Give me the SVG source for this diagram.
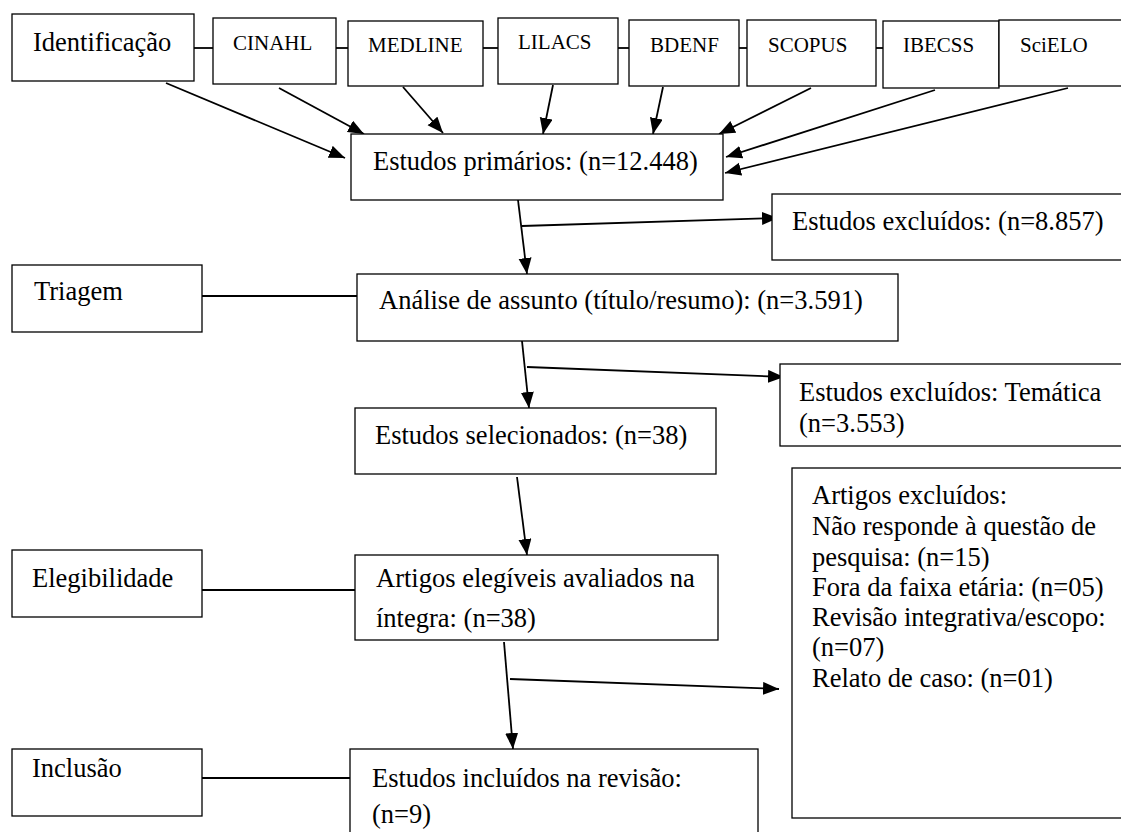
<svg xmlns="http://www.w3.org/2000/svg" width="1121" height="832" viewBox="0 0 1121 832">
<defs>
<style>
.box{fill:#fff;stroke:#000;stroke-width:1.3}
.t{font-family:"Liberation Serif","Times New Roman",serif;font-size:26.5px;fill:#000}
.s{font-family:"Liberation Serif","Times New Roman",serif;font-size:21px;fill:#000}
.ln{stroke:#000;stroke-width:1.8;fill:none}
.ar{stroke:#000;stroke-width:1.8;fill:none;marker-end:url(#ah)}
</style>
<marker id="ah" markerUnits="userSpaceOnUse" markerWidth="17" markerHeight="14" refX="16" refY="6.5" orient="auto">
<path d="M0,0 L16,6.5 L0,13 z" fill="#000"/>
</marker>
</defs>
<rect width="1121" height="832" fill="#fff"/>
<g id="connectors">
<line class="ln" x1="194" y1="48" x2="213" y2="48"/>
<line class="ln" x1="336" y1="48" x2="348" y2="48"/>
<line class="ln" x1="483" y1="48" x2="498" y2="48"/>
<line class="ln" x1="618" y1="48" x2="629" y2="48"/>
<line class="ln" x1="739" y1="48" x2="747" y2="48"/>
<line class="ln" x1="876" y1="48" x2="883" y2="48"/>
<line class="ln" x1="202" y1="296" x2="360" y2="296"/>
<line class="ln" x1="202" y1="590" x2="361" y2="590"/>
<line class="ln" x1="199" y1="778" x2="350" y2="778"/>
<line class="ar" x1="166" y1="83" x2="345" y2="158"/>
<line class="ar" x1="279" y1="88" x2="364" y2="134"/>
<line class="ar" x1="403" y1="87" x2="443" y2="133"/>
<line class="ar" x1="553" y1="85" x2="543" y2="134"/>
<line class="ar" x1="663" y1="87" x2="653" y2="134"/>
<line class="ar" x1="811" y1="88" x2="719" y2="134"/>
<line class="ar" x1="935" y1="90" x2="726" y2="157"/>
<line class="ar" x1="1068" y1="88" x2="725" y2="173"/>
<line class="ar" x1="518" y1="200" x2="527" y2="274"/>
<line class="ar" x1="522" y1="226" x2="778" y2="218"/>
<line class="ar" x1="522" y1="341" x2="529" y2="408"/>
<line class="ar" x1="527" y1="367" x2="784" y2="377"/>
<line class="ar" x1="517" y1="477" x2="527" y2="555"/>
<line class="ar" x1="504" y1="642" x2="513" y2="749"/>
<line class="ar" x1="510" y1="679" x2="779" y2="689"/>
</g>
<g id="identificacao"><rect class="box" x="12" y="14" width="182" height="67"/><text class="t" x="33" y="51">Identificação</text></g>
<g id="cinahl"><rect class="box" x="213" y="18" width="123" height="66"/><text class="s" x="233" y="50">CINAHL</text></g>
<g id="medline"><rect class="box" x="348" y="21" width="135" height="65"/><text class="s" x="368" y="52">MEDLINE</text></g>
<g id="lilacs"><rect class="box" x="498" y="18" width="120" height="66"/><text class="s" x="518" y="49">LILACS</text></g>
<g id="bdenf"><rect class="box" x="629" y="20" width="110" height="66"/><text class="s" x="650" y="52">BDENF</text></g>
<g id="scopus"><rect class="box" x="747" y="20" width="129" height="66"/><text class="s" x="768" y="52">SCOPUS</text></g>
<g id="ibecss"><rect class="box" x="883" y="21" width="116" height="67"/><text class="s" x="903" y="52">IBECSS</text></g>
<g id="scielo"><rect class="box" x="999" y="20" width="130" height="66"/><text class="s" x="1020" y="52">SciELO</text></g>
<g id="primarios"><rect class="box" x="351" y="134" width="372" height="66"/><text class="t" x="373" y="170">Estudos primários: (n=12.448)</text></g>
<g id="excluidos1"><rect class="box" x="772" y="194" width="360" height="66"/><text class="t" x="792" y="230">Estudos excluídos: (n=8.857)</text></g>
<g id="triagem"><rect class="box" x="12" y="265" width="190" height="67"/><text class="t" x="34" y="300">Triagem</text></g>
<g id="analise"><rect class="box" x="357" y="274" width="541" height="67"/><text class="t" x="379" y="309">Análise de assunto (título/resumo): (n=3.591)</text></g>
<g id="excluidos2"><rect class="box" x="780" y="364" width="350" height="82"/><text class="t" x="799" y="401">Estudos excluídos: Temática</text><text class="t" x="799" y="432">(n=3.553)</text></g>
<g id="selecionados"><rect class="box" x="355" y="408" width="361" height="66"/><text class="t" x="375" y="444">Estudos selecionados: (n=38)</text></g>
<g id="artigos-excluidos"><rect class="box" x="792" y="468" width="340" height="350"/>
<text class="t" x="812" y="504">Artigos excluídos:</text>
<text class="t" x="812" y="535">Não responde à questão de</text>
<text class="t" x="812" y="566">pesquisa: (n=15)</text>
<text class="t" x="812" y="596">Fora da faixa etária: (n=05)</text>
<text class="t" x="812" y="626">Revisão integrativa/escopo:</text>
<text class="t" x="812" y="656">(n=07)</text>
<text class="t" x="812" y="687">Relato de caso: (n=01)</text></g>
<g id="elegibilidade"><rect class="box" x="12" y="550" width="190" height="67"/><text class="t" x="32" y="587">Elegibilidade</text></g>
<g id="elegiveis"><rect class="box" x="355" y="555" width="363" height="85"/><text class="t" x="376" y="587">Artigos elegíveis avaliados na</text><text class="t" x="376" y="627">íntegra: (n=38)</text></g>
<g id="inclusao"><rect class="box" x="12" y="749" width="190" height="67"/><text class="t" x="32" y="777">Inclusão</text></g>
<g id="incluidos"><rect class="box" x="350" y="749" width="408" height="100"/><text class="t" x="372" y="787">Estudos incluídos na revisão:</text><text class="t" x="372" y="823">(n=9)</text></g>
</svg>
